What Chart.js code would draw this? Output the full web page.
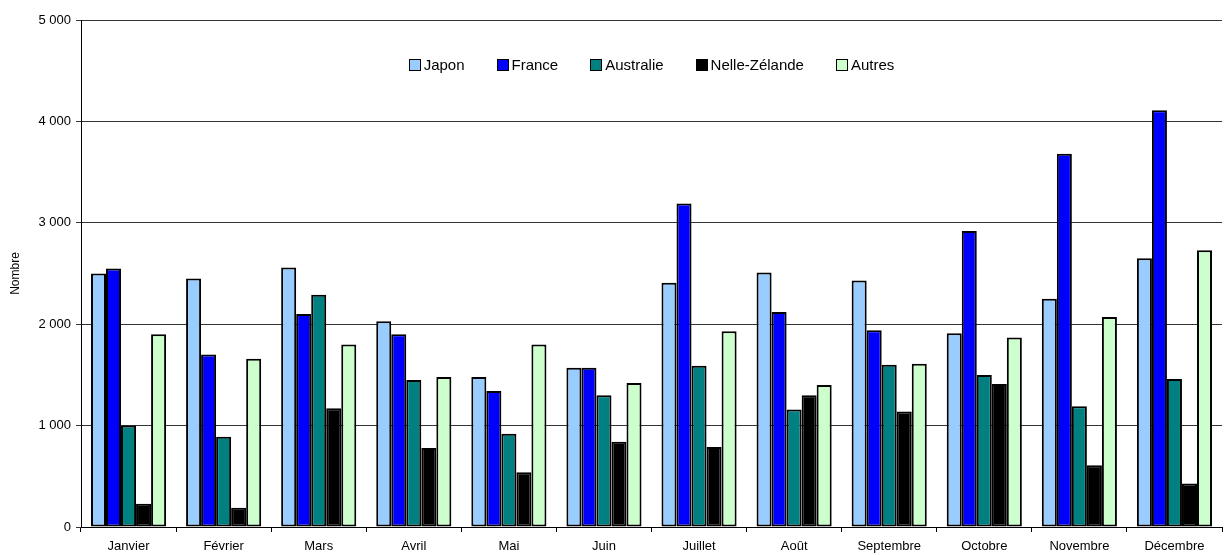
<!DOCTYPE html>
<html>
<head>
<meta charset="utf-8">
<script src="https://cdn.jsdelivr.net/npm/chart.js@4"></script>
<style>
  body { margin: 0; background: #fff; }
  .wrap { position: relative; width: 1224px; height: 555px; }
  .legend {
    position: absolute; left: 81px; width: 1141px; top: 56px;
    display: flex; justify-content: center; gap: 32px;
    font: 15px "Liberation Sans", Arial, sans-serif; color: #000;
  }
  .legend span { display: flex; align-items: center; }
  .legend i { display: inline-block; width: 10px; height: 10px; border: 1px solid #000; margin-right: 3px; }
</style>
</head>
<body>
<div class="wrap">
  <canvas id="chart" width="1224" height="555"></canvas>
  <div class="legend" id="legend"></div>
</div>
<script>
const months = ['Janvier', 'Février', 'Mars', 'Avril', 'Mai', 'Juin', 'Juillet', 'Août', 'Septembre', 'Octobre', 'Novembre', 'Décembre'];
const japon = [2500, 2450, 2560, 2030, 1480, 1570, 2410, 2510, 2430, 1910, 2250, 2650];
const france = [2550, 1700, 2100, 1900, 1340, 1570, 3190, 2120, 1940, 2920, 3680, 4110];
const australie = [1000, 890, 2290, 1450, 920, 1300, 1590, 1160, 1600, 1500, 1190, 1460];
const nelleZelande = [230, 190, 1170, 780, 540, 840, 790, 1300, 1140, 1410, 610, 430];
const autres = [1900, 1660, 1800, 1480, 1800, 1420, 1930, 1400, 1610, 1870, 2070, 2730];
const yTicks = [0, 1000, 2000, 3000, 4000, 5000];

const series = [
  { label: 'Japon', data: japon, color: '#99CCFF' },
  { label: 'France', data: france, color: '#0000FF' },
  { label: 'Australie', data: australie, color: '#008080' },
  { label: 'Nelle-Zélande', data: nelleZelande, color: '#000000' },
  { label: 'Autres', data: autres, color: '#CCFFCC' }
];

// légende en HTML, dans la zone du graphique
let legendHtml = '';
for (let i = 0; i < series.length; i++) {
  legendHtml += `<span><i style="background:${series[i].color}"></i>${series[i].label}</span>`;
}
document.getElementById('legend').innerHTML = legendHtml;

const font = { family: '"Liberation Sans", Arial, sans-serif', size: 13 };

new Chart(document.getElementById('chart'), {
  type: 'bar',
  data: {
    labels: months,
    datasets: series.map(s => ({
      label: s.label,
      data: s.data,
      backgroundColor: s.color,
      borderColor: '#000',
      borderWidth: 2,
      borderSkipped: false,
      categoryPercentage: 0.79,
      barPercentage: 1
    }))
  },
  options: {
    responsive: false,
    animation: false,
    layout: { padding: { top: 20, right: 2, left: 0, bottom: 0 } },
    plugins: { legend: { display: false }, tooltip: { enabled: false } },
    scales: {
      x: {
        grid: { offset: true, drawOnChartArea: false, color: '#000', tickLength: 5 },
        border: { color: '#000' },
        ticks: { color: '#000', font: font, maxRotation: 0, padding: 7 },
        afterFit: s => { s.height = 28; }
      },
      y: {
        min: 0,
        max: 5000,
        afterBuildTicks: s => { s.ticks = yTicks.map(v => ({ value: v })); },
        grid: { color: '#000', lineWidth: 0.8, tickLength: 5 },
        border: { color: '#000', width: 1 },
        ticks: {
          color: '#000',
          font: font,
          padding: 5,
          callback: v => String(v).replace(/\B(?=(\d{3})+(?!\d))/g, ' ')
        },
        title: { display: true, text: 'Nombre', color: '#000', font: { ...font, size: 12 }, padding: { top: 8, bottom: 0 } },
        afterFit: s => { s.width = 81; }
      }
    }
  }
});
</script>
</body>
</html>
